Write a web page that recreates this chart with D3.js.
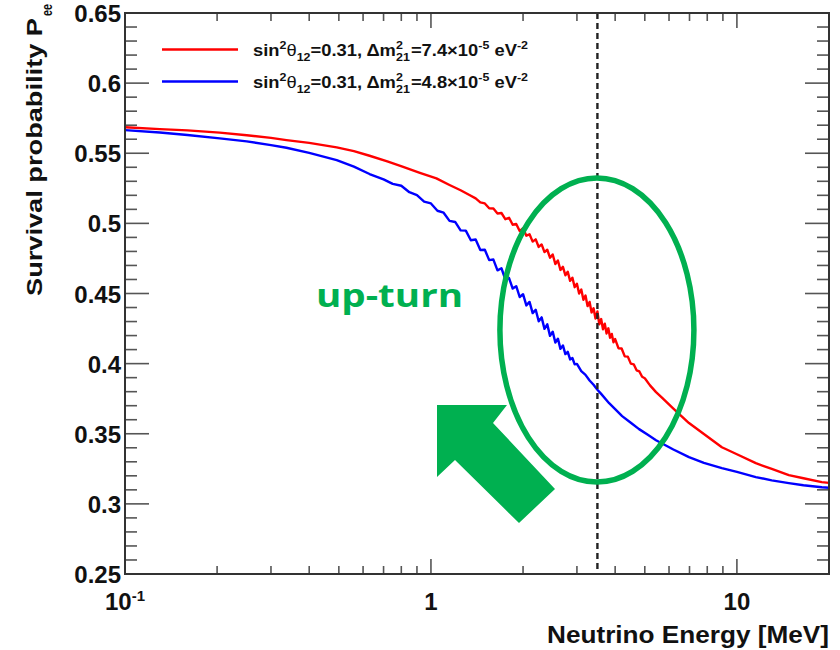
<!DOCTYPE html>
<html>
<head>
<meta charset="utf-8">
<script src="https://cdn.jsdelivr.net/npm/d3@7"></script>
<style>
  html, body { margin: 0; padding: 0; background: #fff; }
  svg { display: block; }
  text { font-family: "Liberation Sans", Arial, Helvetica, sans-serif; font-weight: bold; fill: #111; white-space: pre; }
</style>
</head>
<body>
<svg id="chart" width="840" height="650"></svg>
<script>
// ---- Data: electron-neutrino survival probability vs. energy ----
// Set 1: sin^2(theta12)=0.31, dm^2_21 = 7.4e-5 eV^2
const redEnergy = [0.1, 0.13, 0.16, 0.204, 0.25, 0.3, 0.337, 0.4, 0.492, 0.56, 0.63, 0.72, 0.807, 0.92, 1.042, 1.15, 1.25, 1.336,
  1.4, 1.45, 1.5, 1.55, 1.6, 1.65, 1.7, 1.75, 1.8, 1.85, 1.9, 1.95, 2.0, 2.05, 2.1, 2.15, 2.2, 2.25, 2.3, 2.35, 2.4, 2.45,
  2.5, 2.55, 2.6, 2.65, 2.7, 2.75, 2.8, 2.85, 2.9, 2.95, 3.0, 3.05, 3.1, 3.15, 3.2, 3.25, 3.3, 3.35, 3.4, 3.45,
  3.5, 3.55, 3.6, 3.65, 3.7, 3.75, 3.8, 3.85, 3.9, 3.95, 4.0, 4.1, 4.2, 4.3, 4.4, 4.5, 4.6, 4.7, 4.8, 4.9, 5.0, 5.2, 5.441,
  5.7, 6.2, 6.972, 7.8, 8.93, 10, 11.53, 13, 14.78, 16.5, 18.94, 20];
const redPee = [0.5685, 0.5672, 0.5663, 0.5647, 0.5628, 0.5610, 0.5594, 0.5574, 0.5542, 0.5515, 0.5482, 0.5442, 0.5404, 0.5360, 0.5321, 0.5274, 0.5236, 0.5202,
  0.5178, 0.5150, 0.5142, 0.5108, 0.5106, 0.5070, 0.5074, 0.5030, 0.5040, 0.4990, 0.4996, 0.4945, 0.4965, 0.4912, 0.4922, 0.4870, 0.4886, 0.4832, 0.4850, 0.4795, 0.4812, 0.4755,
  0.4778, 0.4710, 0.4735, 0.4668, 0.4690, 0.4630, 0.4655, 0.4590, 0.4612, 0.4545, 0.4570, 0.4500, 0.4528, 0.4455, 0.4485, 0.4410, 0.4440, 0.4365, 0.4395, 0.4322,
  0.4372, 0.4280, 0.4318, 0.4245, 0.4285, 0.4215, 0.4252, 0.4185, 0.4212, 0.4152, 0.4175, 0.4110, 0.4108, 0.4052, 0.4050, 0.4000, 0.3995, 0.3952, 0.3944, 0.3906, 0.3896, 0.3845, 0.3797,
  0.3755, 0.3680, 0.3576, 0.3498, 0.3404, 0.3354, 0.3290, 0.3249, 0.3205, 0.3183, 0.3155, 0.3150];

// Set 2: sin^2(theta12)=0.31, dm^2_21 = 4.8e-5 eV^2
const blueEnergy = [0.1, 0.13, 0.16, 0.204, 0.25, 0.3, 0.337, 0.4, 0.492, 0.56, 0.63,
  0.7, 0.75, 0.8, 0.85, 0.9, 0.95, 1.0, 1.05, 1.1, 1.15, 1.2, 1.25, 1.3, 1.35, 1.4, 1.45, 1.5, 1.55, 1.6, 1.65, 1.7, 1.75,
  1.8, 1.85, 1.9, 1.95, 2.0, 2.05, 2.1, 2.15, 2.2, 2.25, 2.3, 2.35, 2.4, 2.45, 2.5, 2.55, 2.6, 2.65, 2.7, 2.75, 2.8, 2.85,
  2.9, 2.95, 3.0, 3.1, 3.2, 3.3, 3.4, 3.5, 3.6, 3.823, 4.0, 4.216, 4.5, 4.789, 5.1, 5.441, 6.2, 6.972, 7.8, 8.93, 10, 11.53,
  13, 14.78, 16.5, 18.94, 20];
const bluePee = [0.5665, 0.5648, 0.5630, 0.5606, 0.5585, 0.5558, 0.5539, 0.5503, 0.5451, 0.5405, 0.5352,
  0.5314, 0.5282, 0.5268, 0.5222, 0.5202, 0.5155, 0.5142, 0.5090, 0.5076, 0.5018, 0.5010, 0.4950, 0.4948, 0.4880, 0.4885, 0.4810, 0.4812, 0.4738, 0.4742, 0.4665, 0.4680, 0.4600,
  0.4610, 0.4535, 0.4552, 0.4475, 0.4495, 0.4415, 0.4440, 0.4360, 0.4384, 0.4302, 0.4330, 0.4248, 0.4280, 0.4198, 0.4228, 0.4150, 0.4178, 0.4105, 0.4130, 0.4068, 0.4084, 0.4030,
  0.4040, 0.3995, 0.3998, 0.3946, 0.3920, 0.3880, 0.3849, 0.3814, 0.3784, 0.3718, 0.3675, 0.3626, 0.3578, 0.3533, 0.3494, 0.3454, 0.3388, 0.3333, 0.3292, 0.3255, 0.3228, 0.3191,
  0.3168, 0.3148, 0.3133, 0.3119, 0.3115];

const yMajorTicks = [0.25, 0.3, 0.35, 0.4, 0.45, 0.5, 0.55, 0.6, 0.65];
const yTickLabels = ["0.25", "0.3", "0.35", "0.4", "0.45", "0.5", "0.55", "0.6", "0.65"];
const xMajorTicks = [0.1, 1, 10];
const xTickBase = ["10", "1", "10"];
const xTickExp = ["-1", "", ""];
const markerEnergy = 3.5;   // vertical reference line (MeV)

const xLabel = "Neutrino Energy [MeV]";
const yLabelMain = "Survival probability P";
const yLabelSub = "ee";
const annotationText = "up-turn";

const seriesColors = ["#ff0000", "#0000ff"];
const legendParts = [
  [{t: "sin"}, {t: "2", sup: true}, {t: "θ"}, {t: "12", sub: true}, {t: "=0.31, Δm"}, {stack: ["2", "21"]},
   {t: "=7.4×10"}, {t: "-5", sup: true}, {t: "\u00a0eV"}, {t: "-2", sup: true}],
  [{t: "sin"}, {t: "2", sup: true}, {t: "θ"}, {t: "12", sub: true}, {t: "=0.31, Δm"}, {stack: ["2", "21"]},
   {t: "=4.8×10"}, {t: "-5", sup: true}, {t: "\u00a0eV"}, {t: "-2", sup: true}]
];

// ---- Layout ----
const plot = {left: 125, right: 829, top: 13, bottom: 574};
const svg = d3.select("#chart");

const x = d3.scaleLog().domain([0.1, 20]).range([plot.left, plot.right]);
const y = d3.scaleLinear().domain([0.25, 0.65]).range([plot.bottom, plot.top]);

const frameColor = "#333";
const tickColor = "#555";

// Curves (clipped to the frame)
svg.append("defs").append("clipPath").attr("id", "plotClip")
  .append("rect").attr("x", plot.left).attr("y", plot.top)
  .attr("width", plot.right - plot.left).attr("height", plot.bottom - plot.top);

const line = d3.line().x(d => x(d[0])).y(d => y(d[1])).curve(d3.curveLinear);
const curves = svg.append("g").attr("clip-path", "url(#plotClip)");
[[redEnergy, redPee], [blueEnergy, bluePee]].forEach(([es, ps], i) => {
  curves.append("path")
    .datum(es.map((e, k) => [e, ps[k]]))
    .attr("d", line)
    .attr("fill", "none")
    .attr("stroke", seriesColors[i])
    .attr("stroke-width", 2.4)
    .attr("stroke-linejoin", "round");
});

// Vertical dashed reference line
svg.append("line")
  .attr("x1", x(markerEnergy)).attr("x2", x(markerEnergy))
  .attr("y1", plot.top).attr("y2", plot.bottom)
  .attr("stroke", "#222").attr("stroke-width", 2.4).attr("stroke-dasharray", "6,4");

// Ticks on all four sides
const ticks = svg.append("g").attr("stroke", tickColor).attr("stroke-width", 1.6);
const yMinor = d3.range(26, 65).map(v => v / 100);
yMinor.forEach(v => {
  const major = Math.abs(v * 20 - Math.round(v * 20)) < 1e-6;
  const len = major ? 24 : 12;
  ticks.append("line").attr("x1", plot.left).attr("x2", plot.left + len).attr("y1", y(v)).attr("y2", y(v));
  ticks.append("line").attr("x1", plot.right).attr("x2", plot.right - len).attr("y1", y(v)).attr("y2", y(v));
});
const xMinor = [];
[0.1, 1, 10].forEach(dec => d3.range(1, 10).forEach(m => { const v = dec * m; if (v > 0.1 && v < 20) xMinor.push(v); }));
xMinor.forEach(v => {
  const major = xMajorTicks.some(t => Math.abs(t - v) < 1e-9);
  const len = major ? 15 : 8;
  ticks.append("line").attr("x1", x(v)).attr("x2", x(v)).attr("y1", plot.bottom).attr("y2", plot.bottom - len);
  ticks.append("line").attr("x1", x(v)).attr("x2", x(v)).attr("y1", plot.top).attr("y2", plot.top + len);
});

// Frame
svg.append("rect")
  .attr("x", plot.left).attr("y", plot.top)
  .attr("width", plot.right - plot.left).attr("height", plot.bottom - plot.top)
  .attr("fill", "none").attr("stroke", frameColor).attr("stroke-width", 2);

// Y tick labels
yMajorTicks.forEach((v, i) => {
  svg.append("text")
    .attr("x", plot.left - 4).attr("y", y(v) + 9)
    .attr("text-anchor", "end")
    .style("font-size", "24px")
    .text(yTickLabels[i]);
});

// X tick labels
xMajorTicks.forEach((v, i) => {
  const base = svg.append("text").attr("y", 610).style("font-size", "24px").text(xTickBase[i]);
  const w = base.node().getComputedTextLength();
  if (xTickExp[i]) {
    const exp = svg.append("text").attr("y", 601).style("font-size", "15px").text(xTickExp[i]);
    const we = exp.node().getComputedTextLength();
    const x0 = x(v) - (w + we) / 2;
    base.attr("x", x0);
    exp.attr("x", x0 + w);
  } else {
    base.attr("x", x(v)).attr("text-anchor", "middle");
  }
});

// Axis titles
svg.append("text")
  .attr("x", plot.right).attr("y", 643)
  .attr("text-anchor", "end")
  .style("font-size", "23px")
  .attr("textLength", 282).attr("lengthAdjust", "spacingAndGlyphs")
  .text(xLabel);

const yTitle = svg.append("g").attr("transform", "translate(42,296) rotate(-90)");
yTitle.append("text").attr("x", 0).attr("y", 0)
  .style("font-size", "22px")
  .attr("textLength", 278).attr("lengthAdjust", "spacingAndGlyphs")
  .text(yLabelMain);
yTitle.append("text").attr("x", 280).attr("y", 10)
  .style("font-size", "14px")
  .attr("textLength", 12).attr("lengthAdjust", "spacingAndGlyphs")
  .text(yLabelSub);

// Legend: rich text with sub/superscripts, stretched to its box width
function richText(g, parts, x0, yb, size) {
  let cx = x0;
  const small = size * 0.68;
  parts.forEach(p => {
    if (p.stack) {
      const a = g.append("text").attr("x", cx).attr("y", yb - size * 0.42).style("font-size", small + "px").text(p.stack[0]);
      const b = g.append("text").attr("x", cx).attr("y", yb + size * 0.32).style("font-size", small + "px").text(p.stack[1]);
      cx += Math.max(a.node().getComputedTextLength(), b.node().getComputedTextLength()) + 1;
    } else {
      const dy = p.sup ? -size * 0.42 : p.sub ? size * 0.32 : 0;
      const fs = (p.sup || p.sub) ? small : size;
      const t = g.append("text").attr("x", cx).attr("y", yb + dy).style("font-size", fs + "px").text(p.t);
      if (p.t === "θ") t.style("font-weight", "normal");
      cx += t.node().getComputedTextLength();
    }
  });
  return cx - x0;
}

const legendRows = [{lineY: 49.5, textY: 56}, {lineY: 81.5, textY: 88}];
legendRows.forEach((row, i) => {
  svg.append("line")
    .attr("x1", 162).attr("x2", 238).attr("y1", row.lineY).attr("y2", row.lineY)
    .attr("stroke", seriesColors[i]).attr("stroke-width", 2.4);
  const g = svg.append("g");
  const w = richText(g, legendParts[i], 253, row.textY, 17);
  const sx = 275 / w;
  g.attr("transform", `translate(253,0) scale(${sx},1) translate(-253,0)`);
});

// ---- Annotation: ellipse, arrow and label ----
const green = "#00b050";
svg.append("ellipse")
  .attr("cx", x(markerEnergy) - 0.5).attr("cy", 330)
  .attr("rx", 97).attr("ry", 152)
  .attr("fill", "none").attr("stroke", green).attr("stroke-width", 5.5);

const arrowPts = [[437, 405], [507, 405], [493, 423], [555, 489], [519, 523], [455, 460], [437, 477]];
svg.append("polygon")
  .attr("points", arrowPts.map(p => p.join(",")).join(" "))
  .attr("fill", green);

svg.append("text")
  .attr("x", 316).attr("y", 307)
  .style("font-family", "'Open Sans', 'DejaVu Sans', sans-serif")
  .style("font-weight", "bold")
  .style("font-size", "33px")
  .style("fill", green)
  .attr("textLength", 147).attr("lengthAdjust", "spacingAndGlyphs")
  .text(annotationText);
</script>
</body>
</html>
